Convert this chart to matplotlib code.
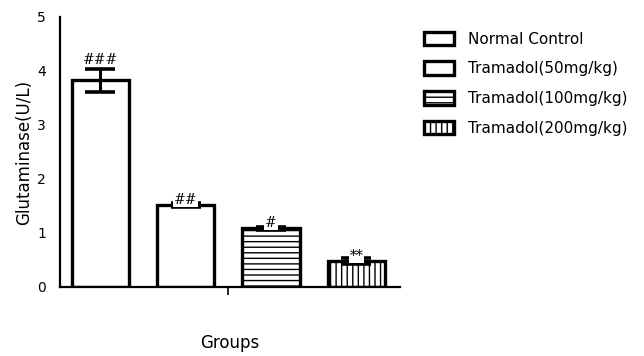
import matplotlib.pyplot as plt
from matplotlib.patches import Patch

# data
groups = ['Normal Control', 'Tramadol(50mg/kg)', 'Tramadol(100mg/kg)', 'Tramadol(200mg/kg)']
values = [3.83, 1.52, 1.09, 0.48]
errors = [0.21, 0.03, 0.03, 0.06]
marks = ['###', '##', '#', '**']
hatches = ['', '', '---', '|||']

plt.rcParams['font.family'] = 'DejaVu Sans'
plt.rcParams['hatch.linewidth'] = 1.0

fig = plt.figure(figsize=(6.44, 3.56), dpi=100)
ax = fig.add_axes([60 / 644, 1 - 287 / 356, 340 / 644, 270 / 356])

x = list(range(len(groups)))
ax.bar(x, values, width=0.67, color='white', edgecolor='black',
       linewidth=2.4, hatch=hatches, zorder=2)
ax.errorbar(x, values, yerr=errors, fmt='none', ecolor='black',
            elinewidth=2.2, capsize=11, capthick=2.6, zorder=3)

# significance marks, the first one sits above its error bar,
# the others sit on the bar top with a white patch behind
for i in x:
    if i == 0:
        ax.text(i, values[i] + errors[i] + 0.04, marks[i], ha='center', va='bottom',
                fontsize=10, family='DejaVu Serif', zorder=4,
                bbox=dict(facecolor='white', edgecolor='none', pad=0.5))
    else:
        ax.text(i, values[i] + 0.1, marks[i], ha='center', va='center',
                fontsize=10, family='DejaVu Serif', zorder=4,
                bbox=dict(facecolor='white', edgecolor='none', pad=0.5))

ax.set_xlim(-0.47, 3.51)
ax.set_ylim(0, 5)
ax.set_yticks([0, 1, 2, 3, 4, 5])
ax.set_xticks([1.5])
ax.set_xticklabels([''])
ax.tick_params(axis='y', length=0, pad=10, labelsize=10)
ax.tick_params(axis='x', length=6, width=1.2, direction='out')
for s in ['top', 'right']:
    ax.spines[s].set_visible(False)
ax.spines['left'].set_linewidth(1.6)
ax.spines['bottom'].set_linewidth(1.6)

ax.set_ylabel('Glutaminase(U/L)', fontsize=12, labelpad=3)
ax.set_xlabel('Groups', fontsize=12, labelpad=24)

handles = [Patch(facecolor='white', edgecolor='black', linewidth=2.4, hatch=h)
           for h in hatches]
fig.legend(handles, groups,
           loc='upper left', bbox_to_anchor=(410 / 644, 1 - 18 / 356),
           frameon=False, fontsize=11, handlelength=2.0, handleheight=1.0,
           handletextpad=0.9, labelspacing=0.95)

fig.savefig('out.png', dpi=100)
